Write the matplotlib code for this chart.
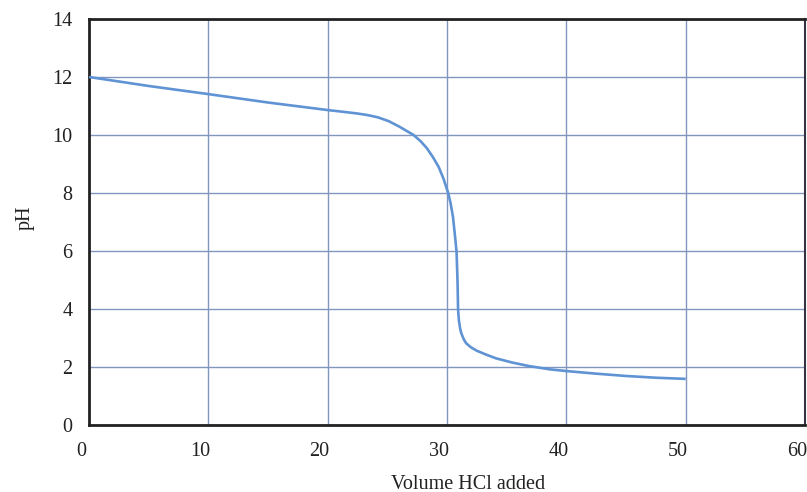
import matplotlib
matplotlib.use("Agg")
import matplotlib.pyplot as plt
from matplotlib.transforms import ScaledTranslation

# titration curve
volume = [0, 5, 10, 15, 20, 21.5, 22.5, 23.3, 24.2, 25.1, 26, 26.7, 27.2,
          27.8, 28.3, 28.8, 29.3, 29.7, 30.1, 30.3, 30.5, 30.65, 30.8,
          30.88, 30.93, 31.0, 31.1, 31.2, 31.4, 31.6, 32.0, 32.5, 33.2,
          34.1, 35.5, 36.9, 38.6, 40, 42.5, 45, 47.5, 50]
ph = [12.0, 11.69, 11.41, 11.12, 10.86, 10.79, 10.74, 10.69, 10.61, 10.48,
      10.29, 10.12, 10.0, 9.78, 9.55, 9.25, 8.9, 8.5, 8.0, 7.65, 7.18, 6.6,
      5.98, 5.0, 3.97, 3.6, 3.33, 3.16, 2.96, 2.82, 2.68, 2.56, 2.44, 2.3,
      2.15, 2.03, 1.92, 1.86, 1.77, 1.69, 1.63, 1.59]

xticks = [0, 10, 20, 30, 40, 50, 60]
yticks = [0, 2, 4, 6, 8, 10, 12, 14]

plt.rcParams['font.family'] = ['Liberation Serif', 'DejaVu Serif']

fig = plt.figure(figsize=(8.07, 4.92), dpi=100)
ax = fig.add_axes([0.1103, 0.1362, 0.8872, 0.8252])

ax.plot(volume, ph, color='#5f93d4', lw=1.9, solid_capstyle='butt',
        solid_joinstyle='round', zorder=3)

ax.set_xlim(0, 60)
ax.set_ylim(0, 14)
ax.set_xticks(xticks)
ax.set_yticks(yticks)
ax.grid(True, color='#8295bd', lw=1.0)
ax.set_axisbelow(True)

ax.tick_params(length=0, labelsize=14.5, colors='#222222')
ax.tick_params(axis='y', pad=12)
ax.tick_params(axis='x', pad=12)
shift = ScaledTranslation(-8 / 100, 0, fig.dpi_scale_trans)
for lab in ax.get_xticklabels():
    lab.set_transform(lab.get_transform() + shift)

for side in ['left', 'top', 'bottom']:
    ax.spines[side].set_color('#222222')
    ax.spines[side].set_linewidth(2.0)
ax.spines['right'].set_color('#333344')
ax.spines['right'].set_linewidth(1.5)

ax.set_xlabel('Volume HCl added', fontsize=14.5, color='#222222')
ax.set_ylabel('pH', fontsize=14.5, color='#222222')
ax.xaxis.set_label_coords(0.529, -0.122)
ax.yaxis.set_label_coords(-0.076, 0.51)

fig.savefig('out.png', dpi=100)
